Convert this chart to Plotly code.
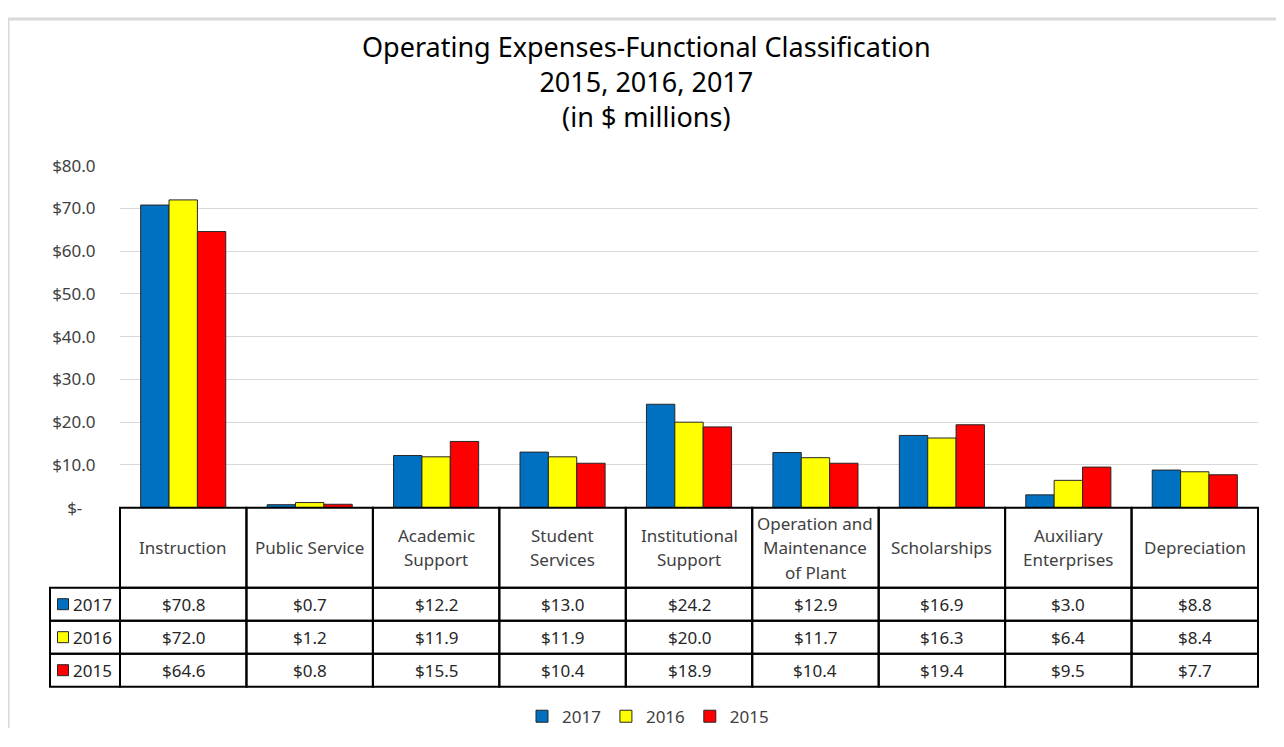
import plotly.graph_objects as go

# ---------------- data ----------------
categories = ["Instruction", "Public Service", "Academic Support", "Student Services",
              "Institutional Support", "Operation and Maintenance of Plant",
              "Scholarships", "Auxiliary Enterprises", "Depreciation"]
header_lines = [["Instruction"], ["Public Service"], ["Academic", "Support"],
                ["Student", "Services"], ["Institutional", "Support"],
                ["Operation and", "Maintenance", "of Plant"], ["Scholarships"],
                ["Auxiliary", "Enterprises"], ["Depreciation"]]
series_names = ["2017", "2016", "2015"]
v2017 = [70.8, 0.7, 12.2, 13.0, 24.2, 12.9, 16.9, 3.0, 8.8]
v2016 = [72.0, 1.2, 11.9, 11.9, 20.0, 11.7, 16.3, 6.4, 8.4]
v2015 = [64.6, 0.8, 15.5, 10.4, 18.9, 10.4, 19.4, 9.5, 7.7]
series_values = [v2017, v2016, v2015]
series_colors = ["#0070C0", "#FFFF00", "#FF0000"]
y_tickvals = [0, 10, 20, 30, 40, 50, 60, 70, 80]
y_ticktext = ["$-\u00a0\u00a0\u00a0", "$10.0", "$20.0", "$30.0", "$40.0", "$50.0",
              "$60.0", "$70.0", "$80.0"]
title_text = "Operating Expenses-Functional Classification<br>2015, 2016, 2017<br>(in $ millions)"

FONT = "Noto Sans"
W, H = 1268, 731
OFF = 8  # page offset of the figure


def py(target_y):
    """target picture y -> page y (observed vertical mapping of the capture)"""
    return (target_y - 10.5) / 0.970


def fy(target_y):
    return 1 - (py(target_y) - OFF) / H


def fx(screen_x):
    return (screen_x - OFF) / W


n = len(categories)
idx = list(range(n))

CW = 126.44                 # px per category
LEFT = 70 / CW              # width of the series-label column in category units
RH = 33                     # px per table row (picture)
HEAD = 80 / RH              # header height in row units
PADX = 4 / CW
PADY = 4 / RH

fig = go.Figure()

for name, vals, col in zip(series_names, series_values, series_colors):
    fig.add_trace(go.Bar(
        x=idx, y=vals, name=name, xaxis="x", yaxis="y",
        marker=dict(color=col, line=dict(color="#262626", width=1)),
        hoverinfo="skip"))

# series key squares in the table's label column
fig.add_trace(go.Scatter(
    x=[-0.5 - LEFT + 13 / CW] * 3, y=[-0.5 - i for i in range(3)],
    xaxis="x2", yaxis="y2", mode="markers", showlegend=False, hoverinfo="skip",
    marker=dict(symbol="square", size=11, color=series_colors,
                line=dict(color="#262626", width=1))))

shapes = []
annotations = []
LW = 2
for i in idx:
    shapes.append(dict(type="rect", xref="x2", yref="y2", x0=i - 0.5, x1=i + 0.5,
                       y0=0, y1=HEAD, line=dict(color="black", width=LW)))
    lines = header_lines[i]
    sp = 24.5 / RH
    mid = HEAD / 2
    for k, t in enumerate(lines):
        yy = mid + ((len(lines) - 1) / 2 - k) * sp
        annotations.append(dict(xref="x2", yref="y2", x=i, y=yy, text=t,
                                showarrow=False, font=dict(family=FONT, size=17, color="#404040")))
for r, (name, vals) in enumerate(zip(series_names, series_values)):
    y0, y1 = -(r + 1), -r
    shapes.append(dict(type="rect", xref="x2", yref="y2", x0=-0.5 - LEFT, x1=-0.5,
                       y0=y0, y1=y1, line=dict(color="black", width=LW)))
    annotations.append(dict(xref="x2", yref="y2", x=-0.5 - LEFT + 21 / CW, y=(y0 + y1) / 2,
                            text=name, xanchor="left", showarrow=False,
                            font=dict(family=FONT, size=17, color="#262626")))
    for i in idx:
        shapes.append(dict(type="rect", xref="x2", yref="y2", x0=i - 0.5, x1=i + 0.5,
                           y0=y0, y1=y1, line=dict(color="black", width=LW)))
        annotations.append(dict(xref="x2", yref="y2", x=i, y=(y0 + y1) / 2,
                                text=f"${vals[i]:.1f}", showarrow=False,
                                font=dict(family=FONT, size=17, color="#262626")))

# chart border (top and left visible)
shapes.append(dict(type="line", xref="paper", yref="paper", x0=0, x1=1, y0=1, y1=1,
                   line=dict(color="#D9D9D9", width=3)))
shapes.append(dict(type="line", xref="paper", yref="paper", x0=0, x1=0, y0=0, y1=1,
                   line=dict(color="#D9D9D9", width=3)))

annotations.append(dict(xref="paper", yref="paper", x=fx(646), y=fy(81), text=title_text,
                        showarrow=False, yanchor="middle", xanchor="center",
                        font=dict(family=FONT, size=27, color="#000000")))

fig.update_layout(
    width=W, height=H, margin=dict(l=0, r=0, t=0, b=0),
    paper_bgcolor="white", plot_bgcolor="rgba(0,0,0,0)",
    barmode="group", bargap=0.327, bargroupgap=0,
    font=dict(family=FONT, color="#404040"),
    xaxis=dict(domain=[fx(120), fx(1258)], range=[-0.5, n - 0.5], showticklabels=False,
               showgrid=False, zeroline=False, ticks="", anchor="y"),
    yaxis=dict(domain=[fy(507), fy(165 - 42.75 * 0.02)], range=[0, 80.2], tickvals=y_tickvals,
               ticktext=y_ticktext, showgrid=True, gridcolor="#D9D9D9", gridwidth=1,
               zeroline=False, ticks="outside", ticklen=20, tickcolor="rgba(0,0,0,0)",
               tickfont=dict(family=FONT, size=17, color="#404040"), anchor="x"),
    xaxis2=dict(domain=[fx(50 - 4), fx(1258 + 4)], range=[-0.5 - LEFT - PADX, n - 0.5 + PADX],
                visible=False, anchor="y2"),
    yaxis2=dict(domain=[fy(686 + 4), fy(507 - 4)], range=[-3 - PADY, HEAD + PADY],
                visible=False, anchor="x2"),
    legend=dict(orientation="h", x=fx(648), xanchor="center", y=fy(716), yanchor="middle",
                font=dict(family=FONT, size=17, color="#404040"), itemwidth=30,
                traceorder="normal"),
    shapes=shapes, annotations=annotations,
)

fig.write_html("out.html")
